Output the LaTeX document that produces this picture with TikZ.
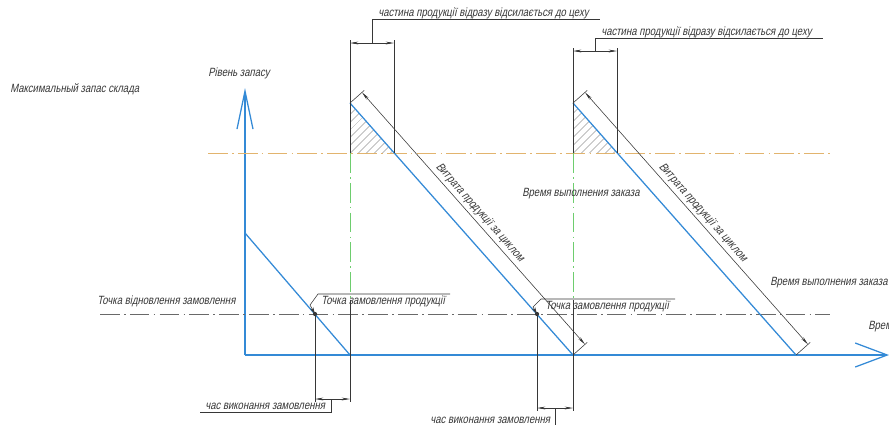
\documentclass[tikz,border=0pt]{standalone}
\usepackage{fontspec}
\newfontfamily\gost[FakeStretch=0.8,FakeSlant=0.2]{Liberation Sans}
\usetikzlibrary{calc}
\usetikzlibrary{arrows.meta}
\usetikzlibrary{patterns.meta}
\usepackage{xcolor}
\definecolor{stockblue}{RGB}{52,138,214}
\definecolor{maxorange}{RGB}{226,180,110}
\definecolor{ropgray}{RGB}{105,105,105}
\definecolor{axisgreen}{RGB}{110,205,110}
\definecolor{inkgray}{RGB}{55,55,55}
\tikzset{
  txt/.style={font=\gost\fontsize{8.5}{10}\selectfont, text=inkgray, inner sep=0pt},
  thinline/.style={inkgray, line width=0.4pt},
  dimline/.style={thinline, <->, >={Stealth[length=6pt,width=2pt]}},
  leader/.style={thinline, -{Stealth[length=5pt,width=2.5pt]}},
  stockline/.style={stockblue, line width=0.9pt},
  dashdot/.style={line width=0.6pt, dash pattern=on 14pt off 3pt on 1.2pt off 3pt},
}

\begin{document}
\begin{tikzpicture}[x=0.025cm,y=-0.025cm]
\useasboundingbox (0,0) rectangle (889,424);
% axes
\coordinate (O) at (245,355);
\coordinate (ytip) at (245,88);
\coordinate (xtip) at (889,355);
\draw[stockline, -{Straight Barb[length=0.95cm,width=0.4cm]}] (O)--(ytip);
\draw[stockline, -{Straight Barb[length=0.8cm,width=0.6cm]}] (O)--(xtip);
\node[txt, anchor=west] (level) at (208,73) {Рівень запасу};
\node[txt, anchor=west] (time) at (868,327) {Время};
% levels
\coordinate (maxL) at (208,153); \coordinate (maxR) at (830,153);
\draw[maxorange, dashdot] (maxL)--(maxR);
\node[txt, anchor=west] (maxstock) at (10,89) {Максимальный запас склада};
\coordinate (ropL) at (100,314); \coordinate (ropR) at (830,314);
\draw[ropgray, dashdot] (ropL)--(ropR);
\node[txt, anchor=west] (renew) at (97,301) {Точка відновлення замовлення};
% first (partial) cycle
\coordinate (s0) at (245,233); \coordinate (e0) at (350,355);
\draw[stockline] (s0)--(e0);
% full cycles
\foreach \x/\dy/\sy [count=\i] in {350/43/19, 573/51/38} {
  \coordinate (top\i) at (\x,103);
  \coordinate (end\i) at (\x+223,355);
  \coordinate (foot\i) at (\x,153);
  \coordinate (cut\i) at (\x+44,153);
  \fill[pattern={Lines[angle=45,distance=4pt,line width=0.35pt]}, pattern color=inkgray!70] (top\i)--(foot\i)--(cut\i)--cycle;
  \draw[stockline] (top\i)--(end\i);
  \draw[axisgreen, dashdot] (foot\i)--(\x,300);
  % part sent to the workshop
  \draw[thinline] (\x,\dy-3)--(foot\i);
  \draw[thinline] (\x+44,\dy-3)--(cut\i);
  \draw[dimline] (\x,\dy)--(\x+44,\dy);
  \draw[thinline] (\x+22,\dy)--(\x+22,\sy)--(\x+250,\sy);
  \node[txt, anchor=base west] (part\i) at (\x+28,\sy-3) {частина продукції відразу відсилається до цеху};
  % consumption per cycle
  \draw[thinline] (top\i)--++(14.2,-12.6);
  \draw[thinline] (end\i)--++(14.2,-12.6);
  \coordinate (ua\i) at ($(top\i)+(12,-10.6)$);
  \coordinate (ub\i) at ($(end\i)+(12,-10.6)$);
  \draw[dimline] (ua\i)-- node[txt, sloped, above, inner sep=2pt] (use\i) {Витрата продукції за циклом} (ub\i);
}
\node[txt, anchor=west] (lead1) at (522,194) {Время выполнения заказа};
\node[txt, anchor=west] (lead2) at (770,283) {Время выполнения заказа};
% order points
\coordinate (P1) at (315,314);
\coordinate (P2) at (537,314);
\fill[inkgray] (P1) circle[radius=1.5pt];
\fill[inkgray] (P2) circle[radius=1.5pt];
\draw[leader] (450,294)--(318,294)--(310,305)--(P1);
\node[txt, anchor=north west] (order1) at (321,296) {Точка замовлення продукції};
\draw[leader] (675,299)--(541,299)--(533,307)--(P2);
\node[txt, anchor=north west] (order2) at (545,301) {Точка замовлення продукції};
% order execution time
\draw[thinline] (P1)--(315,402);
\draw[thinline] (350,300)--(350,402);
\draw[dimline] (315,399)--(350,399);
\draw[thinline] (331,399)--(331,412)--(200,412);
\node[txt, anchor=base west] (exec1) at (205,409) {час виконання замовлення};
\draw[thinline] (P2)--(537,411);
\draw[thinline] (573,300)--(573,411);
\draw[dimline] (537,408)--(573,408);
\draw[thinline] (555,408)--(555,428)--(425,428);
\node[txt, anchor=base west] (exec2) at (430,423) {час виконання замовлення};
\end{tikzpicture}
\end{document}
